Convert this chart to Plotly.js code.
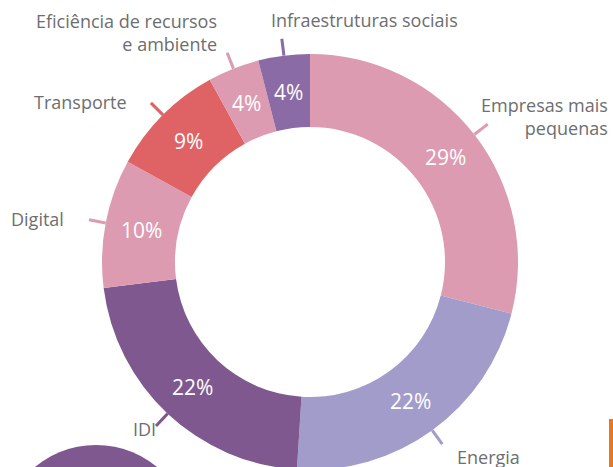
<!DOCTYPE html>
<html>
<head>
<meta charset="utf-8">
<script src="https://cdn.plot.ly/plotly-3.0.1.min.js"></script>
<style>
html,body{margin:0;padding:0;overflow:hidden;background:#fff;}
#chart{width:613px;height:480px;}
</style>
</head>
<body>
<div id="chart"></div>
<script>
// Data
var categories = ["Empresas mais pequenas", "Energia", "IDI", "Digital", "Transporte", "Eficiência de recursos e ambiente", "Infraestruturas sociais"];
var displayLabels = ["Empresas mais<br>pequenas", "Energia", "IDI", "Digital", "Transporte", "Eficiência de recursos<br>e ambiente", "Infraestruturas sociais"];
var shares = [29, 22, 22, 10, 9, 4, 4];
var sliceColors = ["#dc9bb1", "#a29ccb", "#7f5890", "#dc9bb1", "#df6264", "#dc9bb1", "#8b6ba6"];

// Layout geometry (pixels)
var W = 613, H = 480;
var CX = 310, CY = 262, R = 208, RIN = 135;
var labelR = 171.5;
var tickR0 = 208, tickR1 = 225;
// outside label placement (pixel anchor, alignment)
var outLabelPos = [
  {x: 610, y: 116, xa: "right", al: "right"},
  {x: 488, y: 457, xa: "center", al: "center"},
  {x: 144, y: 429, xa: "center", al: "center"},
  {x: 37, y: 219, xa: "center", al: "center"},
  {x: 80, y: 102, xa: "center", al: "center"},
  {x: 219, y: 33, xa: "right", al: "right"},
  {x: 364, y: 20, xa: "center", al: "center"}
];

function px(x){ return x / W; }
function py(y){ return 1 - y / H; }

var total = shares.reduce(function(a,b){return a+b;}, 0);
var annotations = [], shapes = [];
var cum = 0;
for (var i = 0; i < shares.length; i++) {
  var mid = (cum + shares[i] / 2) / total * 2 * Math.PI;
  cum += shares[i];
  var sx = Math.sin(mid), sy = -Math.cos(mid);
  annotations.push({
    xref: "paper", yref: "paper",
    x: px(CX + labelR * sx), y: py(CY + labelR * sy),
    text: shares[i] + "%", showarrow: false,
    xanchor: "center", yanchor: "middle",
    font: {family: "Open Sans", size: 21, color: "#ffffff"}
  });
  shapes.push({
    type: "line", xref: "paper", yref: "paper",
    x0: px(CX + tickR0 * sx), y0: py(CY + tickR0 * sy),
    x1: px(CX + tickR1 * sx), y1: py(CY + tickR1 * sy),
    line: {color: sliceColors[i], width: 3}
  });
  var p = outLabelPos[i];
  annotations.push({
    xref: "paper", yref: "paper",
    x: px(p.x), y: py(p.y),
    text: displayLabels[i], showarrow: false,
    xanchor: p.xa, yanchor: "middle", align: p.al,
    font: {family: "Open Sans", size: 18, color: "#6d6e70"}
  });
}

// decorative elements
shapes.push({type: "circle", xref: "paper", yref: "paper",
  x0: px(0), x1: px(192), y0: py(637), y1: py(445),
  fillcolor: "#7f5890", line: {width: 0}, layer: "below"});
shapes.push({type: "rect", xref: "paper", yref: "paper",
  x0: px(609), x1: px(613), y0: py(480), y1: py(419),
  fillcolor: "#e87722", line: {width: 0}});

var trace = {
  type: "pie",
  labels: categories,
  values: shares,
  sort: false,
  direction: "clockwise",
  rotation: 0,
  hole: RIN / R,
  marker: {colors: sliceColors, line: {width: 0}},
  textinfo: "none",
  hoverinfo: "label+percent",
  showlegend: false,
  domain: {x: [px(CX - R), px(CX + R)], y: [py(CY + R), py(CY - R)]}
};

Plotly.newPlot("chart", [trace], {
  width: W, height: H,
  margin: {l: 0, r: 0, t: 0, b: 0},
  paper_bgcolor: "#ffffff",
  showlegend: false,
  annotations: annotations,
  shapes: shapes
}, {staticPlot: true});
</script>
</body>
</html>
